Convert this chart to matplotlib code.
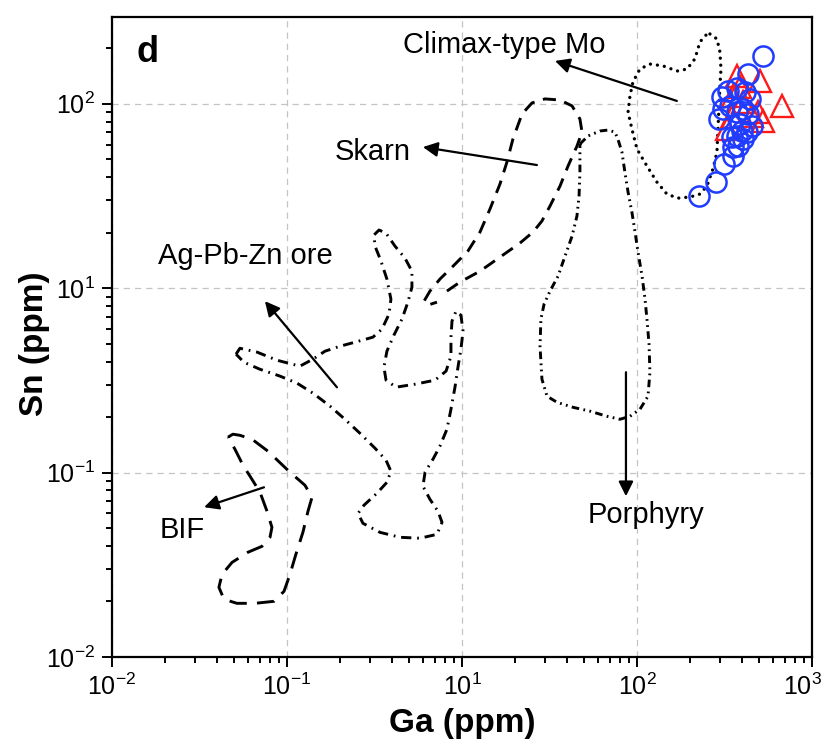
import numpy as np
import matplotlib
matplotlib.use("Agg")
import matplotlib.pyplot as plt
from matplotlib.transforms import ScaledTranslation

plt.rcParams['font.family'] = ['Liberation Sans', 'DejaVu Sans']
plt.rcParams['mathtext.default'] = 'regular'

# field outlines, log10(ppm) on the plotted axis
climax_ga = [1.417, 1.457, 1.474, 1.48, 1.474, 1.469, 1.463, 1.457, 1.434, 1.4, 1.36, 1.303,
             1.234, 1.171, 1.114, 1.057, 1.0, 0.971, 0.949, 0.96, 0.977, 1.017, 1.074, 1.149,
             1.229, 1.286, 1.331, 1.36, 1.4, 1.417]
climax_sn = [1.378, 1.351, 1.281, 1.188, 1.096, 0.988, 0.863, 0.738, 0.646, 0.554, 0.51, 0.494,
             0.488, 0.51, 0.575, 0.662, 0.754, 0.863, 0.955, 1.042, 1.118, 1.188, 1.215, 1.205,
             1.177, 1.188, 1.243, 1.335, 1.378, 1.378]

skarn_ga = [-0.086, -0.011, 0.103, 0.217, 0.331, 0.406, 0.457, 0.503, 0.56, 0.606, 0.657, 0.686,
            0.674, 0.629, 0.56, 0.474, 0.4, 0.343, 0.291, 0.257, 0.217, 0.16, 0.103, 0.034,
            -0.051, -0.126, -0.183, -0.217, -0.194, -0.143]
skarn_sn = [-0.016, 0.033, 0.092, 0.168, 0.244, 0.304, 0.364, 0.445, 0.553, 0.662, 0.77, 0.846,
            0.917, 0.988, 1.02, 1.026, 1.004, 0.944, 0.808, 0.684, 0.564, 0.429, 0.304, 0.201,
            0.119, 0.049, -0.016, -0.071, -0.092, -0.076]

porphyry_ga = [0.674, 0.72, 0.789, 0.834, 0.874, 0.891, 0.914, 0.931, 0.949, 0.971, 0.989, 1.006,
               1.029, 1.046, 1.057, 1.069, 1.074, 1.063, 1.017, 0.96, 0.903, 0.829, 0.731, 0.634,
               0.543, 0.486, 0.457, 0.446, 0.451, 0.469, 0.503, 0.549, 0.589, 0.629, 0.657, 0.669,
               0.674, 0.674]
porphyry_sn = [0.781, 0.825, 0.852, 0.857, 0.846, 0.808, 0.738, 0.629, 0.521, 0.412, 0.304, 0.195,
               0.065, -0.06, -0.168, -0.304, -0.456, -0.586, -0.657, -0.695, -0.711, -0.695, -0.667,
               -0.646, -0.619, -0.586, -0.494, -0.315, -0.168, -0.087, -0.016, 0.065, 0.174, 0.282,
               0.391, 0.499, 0.629, 0.781]

agpbzn_ga = [-1.291, -1.269, -1.171, -1.057, -0.926, -0.851, -0.783, -0.697, -0.611, -0.509, -0.457,
             -0.417, -0.406, -0.429, -0.463, -0.497, -0.503, -0.474, -0.434, -0.383, -0.326, -0.286,
             -0.286, -0.309, -0.343, -0.389, -0.429, -0.446, -0.434, -0.377, -0.269, -0.154, -0.091,
             -0.063, -0.063, -0.057, -0.034, -0.006, 0.006, -0.006, -0.023, -0.04, -0.063, -0.086,
             -0.126, -0.166, -0.211, -0.223, -0.183, -0.137, -0.114, -0.143, -0.24, -0.354, -0.469,
             -0.566, -0.594, -0.56, -0.486, -0.429, -0.406, -0.434, -0.497, -0.583, -0.669, -0.754,
             -0.851, -0.943, -1.04, -1.154, -1.246, -1.291]
agpbzn_sn = [-0.358, -0.326, -0.347, -0.391, -0.423, -0.385, -0.342, -0.315, -0.293, -0.266, -0.222,
             -0.141, -0.06, 0.049, 0.147, 0.228, 0.288, 0.315, 0.298, 0.228, 0.163, 0.092, 0.005,
             -0.076, -0.168, -0.255, -0.342, -0.429, -0.499, -0.537, -0.521, -0.499, -0.45, -0.369,
             -0.266, -0.179, -0.125, -0.147, -0.233, -0.331, -0.429, -0.537, -0.657, -0.765, -0.857,
             -0.928, -0.998, -1.074, -1.145, -1.21, -1.27, -1.335, -1.356, -1.351, -1.324, -1.275,
             -1.221, -1.177, -1.112, -1.053, -0.993, -0.933, -0.868, -0.787, -0.711, -0.64, -0.57,
             -0.515, -0.477, -0.44, -0.402, -0.358]

bif_ga = [-1.337, -1.309, -1.269, -1.2, -1.109, -0.983, -0.897, -0.857, -0.88, -0.909, -0.949,
          -0.983, -1.017, -1.074, -1.183, -1.286, -1.36, -1.389, -1.371, -1.314, -1.223, -1.143,
          -1.097, -1.086, -1.114, -1.154, -1.211, -1.251, -1.297, -1.337]
bif_sn = [-0.808, -0.792, -0.798, -0.819, -0.884, -0.998, -1.069, -1.134, -1.21, -1.324, -1.443,
          -1.552, -1.644, -1.698, -1.709, -1.709, -1.687, -1.622, -1.552, -1.487, -1.432, -1.4,
          -1.351, -1.297, -1.21, -1.107, -1.02, -0.961, -0.874, -0.808]

# samples, log10(ppm)
circ_ga = [1.354, 1.451, 1.497, 1.549, 1.577, 1.606, 1.629, 1.6, 1.571, 1.657, 1.469, 1.491, 1.486,
           1.52, 1.571, 1.617, 1.646, 1.606, 1.634, 1.571, 1.531, 1.634, 1.72, 1.589, 1.543, 1.549]
circ_sn = [0.499, 0.575, 0.673, 0.716, 0.77, 0.808, 0.846, 0.852, 0.825, 0.879, 0.917, 0.971, 1.036,
           1.069, 1.085, 1.063, 1.026, 0.971, 0.944, 0.955, 0.988, 1.161, 1.259, 0.89, 0.819, 0.765]
tri_ga = [1.571, 1.703, 1.829, 1.691, 1.72, 1.657, 1.606, 1.549, 1.514, 1.543, 1.589]
tri_sn = [1.15, 1.123, 0.988, 0.955, 0.906, 0.933, 1.009, 1.042, 0.863, 0.928, 1.091]

xtick_vals = [1e-2, 1e-1, 1e0, 1e1, 1e2]
xtick_text = ['$10^{-2}$', '$10^{-1}$', '$10^{1}$', '$10^{2}$', '$10^{3}$']
ytick_vals = [1e-2, 1e-1, 1e0, 1e1]
ytick_text = ['$10^{-2}$', '$10^{-1}$', '$10^{1}$', '$10^{2}$']

def p(v):
    return np.power(10.0, np.array(v))

fig = plt.figure(figsize=(8.24, 7.46), dpi=100)
ax = fig.add_axes([0.1359, 0.1193, 0.8495, 0.8579])
ax.set_xscale('log')
ax.set_yscale('log')

ax.plot(p(climax_ga), p(climax_sn), color='k', lw=2.4, ls=(0, (0.01, 2.1)), dash_capstyle='round')
ax.plot(p(skarn_ga), p(skarn_sn), color='k', lw=2.1, ls=(0, (4.5, 3)))
ax.plot(p(porphyry_ga), p(porphyry_sn), color='k', lw=2.1, ls=(0, (2.6, 1.5, 0.6, 1.5, 0.6, 1.5)))
ax.plot(p(agpbzn_ga), p(agpbzn_sn), color='k', lw=2.1, ls=(0, (3.5, 2, 0.6, 2)))
ax.plot(p(bif_ga), p(bif_sn), color='k', lw=2.1, ls=(0, (6, 3.5)))

ax.plot(p(tri_ga), p(tri_sn), ls='none', marker='^', ms=16.5, mfc='none', mec='#ff1a1a', mew=1.7)
ax.plot(p(circ_ga), p(circ_sn), ls='none', marker='o', ms=14.5, mfc='none', mec='#1f3cff', mew=1.8)

arr = dict(arrowstyle='-|>', color='k', lw=1.6, mutation_scale=22, shrinkA=0, shrinkB=0)
ax.annotate('', xy=(3.40, 17.06), xytext=(16.9, 10.35), arrowprops=arr)
ax.annotate('', xy=(0.598, 5.82), xytext=(2.68, 4.65), arrowprops=arr)
ax.annotate('', xy=(0.0748, 0.850), xytext=(0.193, 0.290), arrowprops=arr)
ax.annotate('', xy=(0.0336, 0.0649), xytext=(0.0739, 0.0832), arrowprops=arr)
ax.annotate('', xy=(8.65, 0.0744), xytext=(8.65, 0.350), arrowprops=arr)

tk = dict(transform=ax.transAxes, ha='center', va='center', fontsize=21)
ax.text(0.051, 0.945, 'd', transform=ax.transAxes, ha='center', va='center', fontsize=26, fontweight='bold')
ax.text(0.56, 0.956, 'Climax-type Mo', **tk)
ax.text(0.373, 0.789, 'Skarn', **tk)
ax.text(0.191, 0.627, 'Ag-Pb-Zn ore', **tk)
ax.text(0.101, 0.198, 'BIF', **tk)
ax.text(0.763, 0.222, 'Porphyry', **tk)

ax.set_xlim(1e-2, 1e2)
ax.set_ylim(1e-2, 10 ** 1.47)
ax.set_xticks(xtick_vals, xtick_text)
ax.set_yticks(ytick_vals, ytick_text)
ax.tick_params(which='both', direction='out', top=False, right=False, labelsize=18, width=1.4)
ax.tick_params(which='major', length=7, pad=5)
ax.tick_params(which='minor', length=4)
ax.grid(True, which='major', color='#c4c4c4', ls=(0, (5, 4)), lw=0.9)
for s in ax.spines.values():
    s.set_linewidth(1.6)

# last x label sits against the figure edge
last = ax.xaxis.get_major_ticks()[-1].label1
last.set_transform(last.get_transform() + ScaledTranslation(-0.10, 0, fig.dpi_scale_trans))

ax.set_xlabel('Ga (ppm)', fontsize=24, fontweight='bold', labelpad=6)
ax.set_ylabel('Sn (ppm)', fontsize=24, fontweight='bold')
ax.yaxis.set_label_coords(-0.088, 0.49)

fig.savefig('out.png', dpi=100)
